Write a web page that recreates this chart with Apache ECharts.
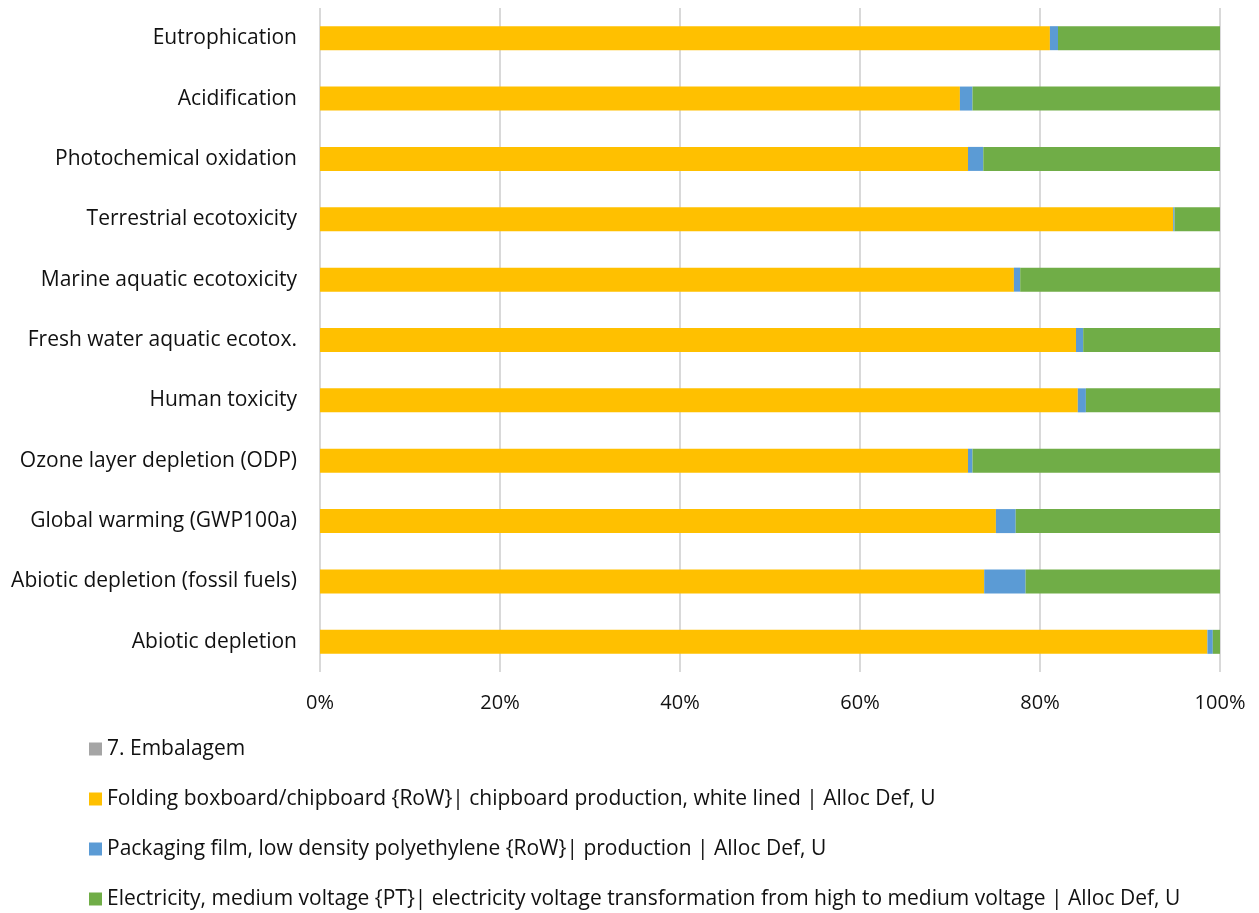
<!DOCTYPE html>
<html>
<head>
<meta charset="utf-8">
<script src="https://cdn.jsdelivr.net/npm/echarts@6/dist/echarts.min.js"></script>
<style>
  html, body { margin: 0; padding: 0; background: #fff; }
  #chart { width: 1259px; height: 913px; }
</style>
</head>
<body>
<div id="chart"></div>
<script>
// Impact categories, listed top to bottom
const categories = [
  'Eutrophication',
  'Acidification',
  'Photochemical oxidation',
  'Terrestrial ecotoxicity',
  'Marine aquatic ecotoxicity',
  'Fresh water aquatic ecotox.',
  'Human toxicity',
  'Ozone layer depletion (ODP)',
  'Global warming (GWP100a)',
  'Abiotic depletion (fossil fuels)',
  'Abiotic depletion'
];

const seriesNames = [
  '7. Embalagem',
  'Folding boxboard/chipboard {RoW}| chipboard production, white lined | Alloc Def, U',
  'Packaging film, low density polyethylene {RoW}| production | Alloc Def, U',
  'Electricity, medium voltage {PT}| electricity voltage transformation from high to medium voltage | Alloc Def, U'
];

// Contribution shares (%) per category
const embalagem = [0, 0, 0, 0, 0, 0, 0, 0, 0, 0, 0];
const boxboard = [81.1, 71.1, 72.0, 94.8, 77.1, 84.0, 84.2, 72.0, 75.1, 73.8, 98.6];
const film = [0.9, 1.4, 1.7, 0.15, 0.7, 0.8, 0.9, 0.5, 2.2, 4.6, 0.6];
const electricity = [18.0, 27.5, 26.3, 5.05, 22.2, 15.2, 14.9, 27.5, 22.7, 21.6, 0.8];

const xTicks = [0, 20, 40, 60, 80, 100];

const colors = ['#a5a5a5', '#ffc000', '#5b9bd5', '#70ad47'];
const FONT = '"Open Sans", "Noto Sans", sans-serif';

const values = [embalagem, boxboard, film, electricity];

const chart = echarts.init(document.getElementById('chart'), null, { renderer: 'canvas' });

chart.setOption({
  animation: false,
  backgroundColor: '#ffffff',
  color: colors,
  textStyle: { fontFamily: FONT },
  grid: { left: 320, right: 39, top: 8, bottom: 241, containLabel: false },
  xAxis: {
    type: 'value',
    min: xTicks[0],
    max: xTicks[xTicks.length - 1],
    interval: xTicks[1] - xTicks[0],
    axisLine: { show: false },
    axisTick: { show: false },
    splitLine: { show: true, lineStyle: { color: '#d9d9d9', width: 2 } },
    axisLabel: {
      formatter: '{value}%',
      fontSize: 20,
      color: '#111111',
      margin: 21,
      fontFamily: FONT
    }
  },
  yAxis: {
    type: 'category',
    data: categories,
    inverse: true,
    axisLine: { show: false },
    axisTick: { show: false },
    splitLine: { show: false },
    axisLabel: {
      fontSize: 21,
      color: '#111111',
      margin: 23,
      fontFamily: FONT
    }
  },
  legend: {
    orient: 'vertical',
    left: 89,
    top: 737,
    padding: 0,
    itemWidth: 13,
    itemHeight: 13,
    itemGap: 26,
    icon: 'rect',
    textStyle: { fontSize: 21, color: '#111111', fontFamily: FONT, lineHeight: 24 },
    data: seriesNames
  },
  series: seriesNames.map((name, i) => ({
    name: name,
    type: 'bar',
    stack: 'total',
    barWidth: 24,
    data: values[i],
    itemStyle: { color: colors[i] }
  }))
});
</script>
</body>
</html>
